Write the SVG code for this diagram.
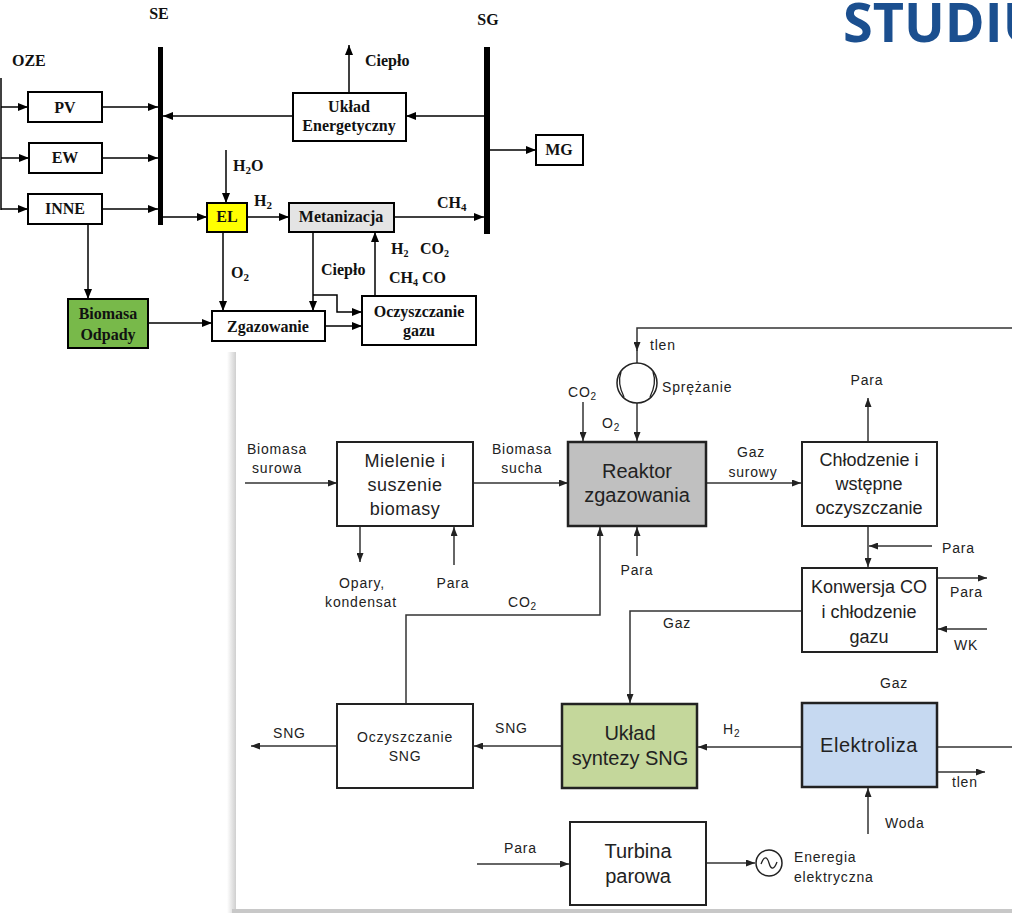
<svg xmlns="http://www.w3.org/2000/svg" width="1012" height="913" viewBox="0 0 1012 913">
<style>
.sb{font-family:"Liberation Serif","Times New Roman",serif;font-weight:bold;font-size:16px;fill:#111}
.ss{font-family:"Liberation Sans",Arial,sans-serif;font-size:14px;fill:#222;letter-spacing:0.8px}
.bx{font-family:"Liberation Sans",Arial,sans-serif;font-size:18px;fill:#222}
.bx2{font-family:"Liberation Sans",Arial,sans-serif;font-size:20px;fill:#222}
.t{stroke:#000;stroke-width:2;fill:#fff}
.b{stroke:#222;stroke-width:2;fill:#fff}
.c1{stroke:#000;stroke-width:1.5;fill:none}
.c2{stroke:#333;stroke-width:1.5;fill:none}
.m{text-anchor:middle}
</style>
<defs>
<marker id="ah" markerUnits="userSpaceOnUse" markerWidth="10" markerHeight="8" refX="10" refY="4" orient="auto"><path d="M0,0 L10,4 L0,8 z" fill="#000"/></marker>
<marker id="ab" markerUnits="userSpaceOnUse" markerWidth="9" markerHeight="7" refX="9" refY="3.5" orient="auto"><path d="M0,0 L9,3.5 L0,7 z" fill="#222"/></marker>
<linearGradient id="sh" x1="0" y1="0" x2="1" y2="0"><stop offset="0" stop-color="#ffffff"/><stop offset="1" stop-color="#cfcfcf"/></linearGradient>
</defs>
<rect width="1012" height="913" fill="#fff"/>
<!-- panel shadow -->
<rect x="227" y="352" width="9" height="561" fill="url(#sh)"/>
<rect x="232" y="909" width="780" height="4" fill="#c8c8c8"/>

<!-- title -->
<text x="843" y="42" font-family="'Open Sans','Liberation Sans',sans-serif" font-weight="bold" font-size="54" fill="#1b4f8f">STUDIU</text>

<!-- top diagram buses -->
<g id="bus-SE"><rect x="158" y="47" width="5" height="178" fill="#000"/><text class="sb m" x="159" y="19">SE</text></g>
<g id="bus-SG"><rect x="484" y="47" width="6" height="187" fill="#000"/><text class="sb m" x="488" y="25">SG</text></g>
<g id="label-OZE"><text class="sb" x="12" y="66">OZE</text></g>

<g id="top-connectors">
<path class="c1" d="M1,78 V210"/>
<path class="c1" d="M1,107 H28" marker-end="url(#ah)"/>
<path class="c1" d="M1,158 H29" marker-end="url(#ah)"/>
<path class="c1" d="M1,209 H28" marker-end="url(#ah)"/>
<path class="c1" d="M102,107 H158" marker-end="url(#ah)"/>
<path class="c1" d="M102,158 H158" marker-end="url(#ah)"/>
<path class="c1" d="M102,209 H158" marker-end="url(#ah)"/>
<path class="c1" d="M484,116 H406" marker-end="url(#ah)"/>
<path class="c1" d="M293,116 H163" marker-end="url(#ah)"/>
<path class="c1" d="M349,93 V45" marker-end="url(#ah)"/>
<path class="c1" d="M490,150 H536" marker-end="url(#ah)"/>
<path class="c1" d="M163,217 H207" marker-end="url(#ah)"/>
<path class="c1" d="M226,150 V203" marker-end="url(#ah)"/>
<path class="c1" d="M247,217 H289" marker-end="url(#ah)"/>
<path class="c1" d="M394,217 H484" marker-end="url(#ah)"/>
<path class="c1" d="M88,224 V299" marker-end="url(#ah)"/>
<path class="c1" d="M148,323 H212" marker-end="url(#ah)"/>
<path class="c1" d="M223,232 V311" marker-end="url(#ah)"/>
<path class="c1" d="M313,232 V311" marker-end="url(#ah)"/>
<path class="c1" d="M313,295 H337 V312 H362" marker-end="url(#ah)"/>
<path class="c1" d="M325,326 H362" marker-end="url(#ah)"/>
<path class="c1" d="M375,296 V232" marker-end="url(#ah)"/>
<text class="sb" x="365" y="66">Ciepło</text>
<text class="sb" x="233" y="171">H<tspan font-size="11" dy="3">2</tspan><tspan dy="-3">O</tspan></text>
<text class="sb" x="254" y="206">H<tspan font-size="11" dy="3">2</tspan></text>
<text class="sb" x="437" y="208">CH<tspan font-size="11" dy="3">4</tspan></text>
<text class="sb" x="231" y="278">O<tspan font-size="11" dy="3">2</tspan></text>
<text class="sb" x="321" y="275">Ciepło</text>
<text class="sb" x="391" y="254" font-size="15">H<tspan font-size="10" dy="3">2</tspan></text>
<text class="sb" x="420" y="254" font-size="15">CO<tspan font-size="10" dy="3">2</tspan></text>
<text class="sb" x="389" y="283" font-size="15">CH<tspan font-size="10" dy="3">4</tspan></text>
<text class="sb" x="422" y="283" font-size="15">CO</text>
</g>

<g id="node-PV"><rect class="t" x="28" y="92" width="74" height="30"/><text class="sb m" x="65" y="113">PV</text></g>
<g id="node-EW"><rect class="t" x="29" y="143" width="73" height="30"/><text class="sb m" x="65" y="163">EW</text></g>
<g id="node-INNE"><rect class="t" x="28" y="194" width="74" height="30"/><text class="sb m" x="65" y="214">INNE</text></g>
<g id="node-Uklad"><rect class="t" x="293" y="93" width="113" height="48"/><text class="sb m" x="349" y="112">Układ</text><text class="sb m" x="349" y="131">Energetyczny</text></g>
<g id="node-MG"><rect class="t" x="536" y="135" width="47" height="30"/><text class="sb m" x="559" y="155">MG</text></g>
<g id="node-EL"><rect x="207" y="203" width="40" height="29" fill="#ffff00" stroke="#000" stroke-width="2"/><text class="sb m" x="227" y="222">EL</text></g>
<g id="node-Metanizacja"><rect x="289" y="203" width="105" height="29" fill="#e4e4e4" stroke="#000" stroke-width="2"/><text class="sb m" x="341" y="222">Metanizacja</text></g>
<g id="node-Biomasa"><rect x="68" y="299" width="80" height="49" fill="#78b94a" stroke="#000" stroke-width="2"/><text class="sb m" x="108" y="319">Biomasa</text><text class="sb m" x="108" y="340">Odpady</text></g>
<g id="node-Zgazowanie"><rect class="t" x="212" y="311" width="113" height="30"/><text class="sb m" x="268" y="332">Zgazowanie</text></g>
<g id="node-Oczyszczanie-gazu"><rect class="t" x="362" y="296" width="114" height="49"/><text class="sb m" x="419" y="317">Oczyszczanie</text><text class="sb m" x="419" y="336">gazu</text></g>

<!-- bottom diagram -->
<g id="bottom-connectors">
<path class="c2" d="M245,483 H337" marker-end="url(#ab)"/>
<path class="c2" d="M473,483 H568" marker-end="url(#ab)"/>
<path class="c2" d="M360,526 V562" marker-end="url(#ab)"/>
<path class="c2" d="M454,565 V527" marker-end="url(#ab)"/>
<path class="c2" d="M583,402 V441" marker-end="url(#ab)"/>
<path class="c2" d="M1012,328 H637 V351" marker-end="url(#ab)"/>
<path class="c2" d="M637,350 V363"/>
<path class="c2" d="M637,403 V441" marker-end="url(#ab)"/>
<path class="c2" d="M637,556 V527" marker-end="url(#ab)"/>
<path class="c2" d="M406,704 V615 H600 V527" marker-end="url(#ab)"/>
<path class="c2" d="M706,483 H801" marker-end="url(#ab)"/>
<path class="c2" d="M868,442 V398" marker-end="url(#ab)"/>
<path class="c2" d="M868,526 V567" marker-end="url(#ab)"/>
<path class="c2" d="M932,546 H869" marker-end="url(#ab)"/>
<path class="c2" d="M937,578 H987" marker-end="url(#ab)"/>
<path class="c2" d="M987,629 H938" marker-end="url(#ab)"/>
<path class="c2" d="M802,611 H630 V703" marker-end="url(#ab)"/>
<path class="c2" d="M802,747 H698" marker-end="url(#ab)"/>
<path class="c2" d="M937,747 H1012"/>
<path class="c2" d="M937,772 H985" marker-end="url(#ab)"/>
<path class="c2" d="M868,834 V788" marker-end="url(#ab)"/>
<path class="c2" d="M562,746 H474" marker-end="url(#ab)"/>
<path class="c2" d="M337,746 H251" marker-end="url(#ab)"/>
<path class="c2" d="M477,864 H569" marker-end="url(#ab)"/>
<path class="c2" d="M706,863 H755" marker-end="url(#ab)"/>
<text class="ss m" x="277" y="454">Biomasa</text>
<text class="ss m" x="277" y="473">surowa</text>
<text class="ss m" x="522" y="454">Biomasa</text>
<text class="ss m" x="522" y="473">sucha</text>
<text class="ss m" x="362" y="588">Opary,</text>
<text class="ss m" x="361" y="607">kondensat</text>
<text class="ss m" x="453" y="588">Para</text>
<text class="ss" x="508" y="607">CO<tspan font-size="10" dy="3">2</tspan></text>
<text class="ss" x="568" y="397">CO<tspan font-size="10" dy="3">2</tspan></text>
<text class="ss" x="602" y="428">O<tspan font-size="10" dy="3">2</tspan></text>
<text class="ss" x="650" y="350">tlen</text>
<text class="ss" x="662" y="392">Sprężanie</text>
<text class="ss m" x="637" y="575">Para</text>
<text class="ss m" x="751" y="457">Gaz</text>
<text class="ss m" x="753" y="477">surowy</text>
<text class="ss m" x="867" y="385">Para</text>
<text class="ss" x="942" y="553">Para</text>
<text class="ss" x="950" y="597">Para</text>
<text class="ss" x="954" y="650">WK</text>
<text class="ss" x="663" y="628">Gaz</text>
<text class="ss" x="880" y="688">Gaz</text>
<text class="ss" x="723" y="734">H<tspan font-size="10" dy="3">2</tspan></text>
<text class="ss" x="952" y="787">tlen</text>
<text class="ss" x="885" y="828">Woda</text>
<text class="ss" x="794" y="862">Eneregia</text>
<text class="ss" x="794" y="882">elektryczna</text>
<text class="ss" x="495" y="733">SNG</text>
<text class="ss" x="273" y="738">SNG</text>
<text class="ss" x="504" y="853">Para</text>
</g>

<g id="node-Sprezarka">
<circle cx="637" cy="383" r="20" fill="#fff" stroke="#222" stroke-width="1.5"/>
<path d="M621,372 Q617,383 624,397 M653,372 Q657,383 650,397" fill="none" stroke="#222" stroke-width="1.3"/>
</g>
<g id="node-Generator">
<circle cx="769" cy="863" r="13" fill="#fff" stroke="#222" stroke-width="1.5"/>
<path d="M761,864 C764,856 767,856 769,863 C771,870 774,870 777,862" fill="none" stroke="#222" stroke-width="1.3"/>
</g>

<g id="node-Mielenie"><rect class="b" x="337" y="442" width="136" height="84"/><text class="bx m" x="405" y="467" letter-spacing="0.5">Mielenie i</text><text class="bx m" x="405" y="491" letter-spacing="0.5">suszenie</text><text class="bx m" x="405" y="515" letter-spacing="0.5">biomasy</text></g>
<g id="node-Reaktor"><rect x="568" y="442" width="138" height="84" fill="#c0c0c0" stroke="#222" stroke-width="2.5"/><text class="bx2 m" x="637" y="478" font-size="19">Reaktor</text><text class="bx2 m" x="637" y="502" font-size="19">zgazowania</text></g>
<g id="node-Chlodzenie"><rect class="b" x="802" y="442" width="135" height="84"/><text class="bx m" x="869" y="466">Chłodzenie i</text><text class="bx m" x="869" y="490">wstępne</text><text class="bx m" x="869" y="514">oczyszczanie</text></g>
<g id="node-Konwersja"><rect class="b" x="802" y="568" width="135" height="84"/><text class="bx m" x="869" y="593">Konwersja CO</text><text class="bx m" x="869" y="618">i chłodzenie</text><text class="bx m" x="869" y="643">gazu</text></g>
<g id="node-Uklad-syntezy"><rect x="562" y="704" width="135" height="84" fill="#c4d79b" stroke="#222" stroke-width="2.5"/><text class="bx2 m" x="630" y="740">Układ</text><text class="bx2 m" x="630" y="765">syntezy SNG</text></g>
<g id="node-Elektroliza"><rect x="802" y="703" width="135" height="84" fill="#c6d9f1" stroke="#222" stroke-width="2.5"/><text class="bx2 m" x="869" y="752" letter-spacing="0.5">Elektroliza</text></g>
<g id="node-Oczyszczanie-SNG"><rect class="b" x="337" y="704" width="136" height="84"/><text class="ss m" x="405" y="742" font-size="15">Oczyszczanie</text><text class="ss m" x="405" y="761" font-size="15">SNG</text></g>
<g id="node-Turbina"><rect class="b" x="570" y="822" width="136" height="83"/><text class="bx2 m" x="638" y="858">Turbina</text><text class="bx2 m" x="638" y="883">parowa</text></g>
</svg>
